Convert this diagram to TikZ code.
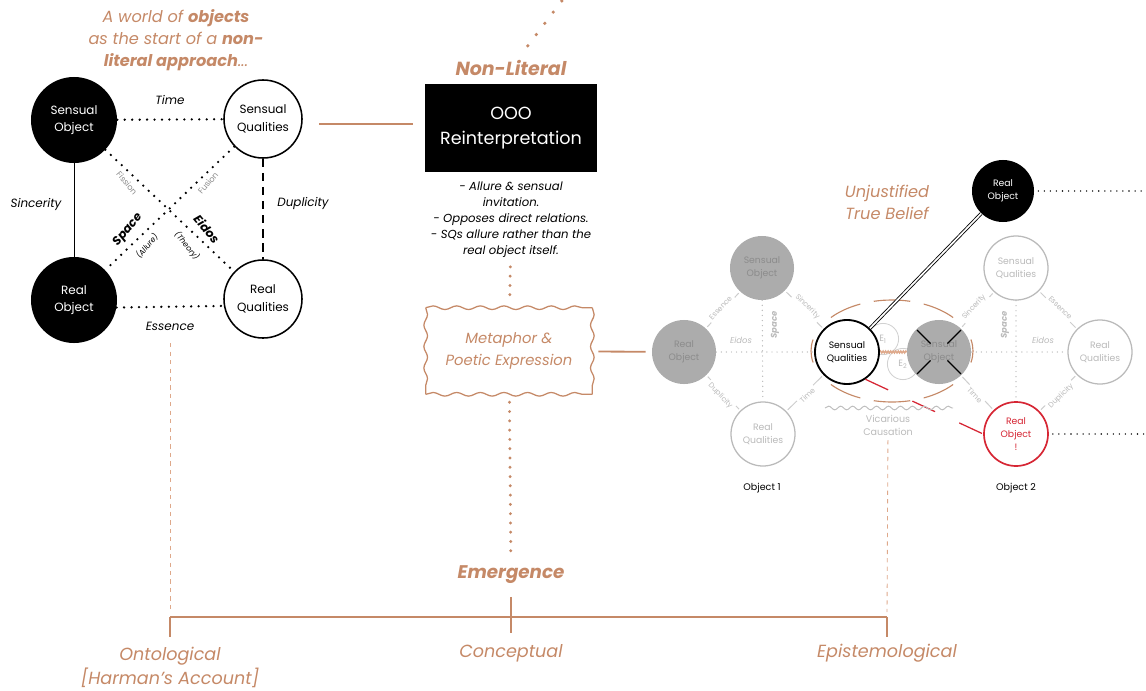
\documentclass[tikz,border=0pt]{standalone}
\usepackage{fontspec}
\setmainfont{Poppins}
\usetikzlibrary{calc,backgrounds,decorations.pathmorphing}

\definecolor{ochre}{RGB}{197,137,103}
\definecolor{ochrelight}{RGB}{222,168,138}
\definecolor{shade}{RGB}{172,172,172}
\definecolor{pale}{RGB}{186,186,186}
\definecolor{palelink}{RGB}{205,205,205}
\definecolor{alert}{RGB}{214,38,52}

\def\fsz#1#2{\fontsize{#1}{#2}\selectfont}
\def\halo[#1](#2)(#3:#4){\draw[#1] ($(#2)+({81*cos(#3)},{51*sin(#3)})$) arc[start angle=#3, end angle=#4, x radius=81, y radius=51];}

\tikzset{
	darkobj/.style={circle, fill=black, text=white, inner sep=0pt, align=center},
	lightobj/.style={circle, draw=black, fill=white, inner sep=0pt, align=center},
	bigobj/.style={minimum size=2.15cm, font=\fsz{8.5}{12.5}},
	smallobj/.style={minimum size=1.6cm, font=\fsz{6.6}{9.2}},
	fadedobj/.style={lightobj, smallobj, draw=pale, text=pale, line width=0.9pt},
	grayobj/.style={circle, fill=shade, text=black!45, inner sep=0pt, align=center, smallobj},
	dotline/.style={line width=1.8pt, dash pattern=on 0pt off 5.3pt, line cap=round},
	ochredots/.style={ochre, line width=2.3pt, dash pattern=on 0pt off 6.6pt, line cap=round},
	faintdots/.style={black!28, line width=1pt, dash pattern=on 0pt off 3.6pt, line cap=round},
	tinydots/.style={line width=1.1pt, dash pattern=on 0pt off 4.3pt, line cap=round},
	ochreline/.style={ochre, line width=1.3pt},
	paledash/.style={ochrelight, line width=0.6pt, dash pattern=on 3pt off 3pt},
	wavyside/.style={ochre, line width=0.9pt, decorate, decoration={snake, segment length=#1, amplitude=1.3pt}},
	objlink/.style={palelink, line width=0.7pt, shorten <=0.05cm, shorten >=0.05cm},
	linklab/.style={sloped, fill=white, inner sep=1.6pt, text=pale, font=\fsz{5.2}{6}},
	edgelab/.style={font=\itshape\fsz{8.5}{10}},
	ochretext/.style={text=ochre, align=center},
	axislab/.style={ochretext, font=\itshape\fsz{12.5}{17}},
}

\begin{document}
\begin{tikzpicture}[x=0.025cm, y=-0.025cm]
	%%%%% START %%%%%
	\useasboundingbox (0,0) rectangle (1146,691);
	
	% left: the fourfold object
	\node[ochretext, font=\itshape\fsz{11.5}{15.8}] (intro) at (176,40) {A world of \textbf{objects}\\as the start of a \textbf{non-}\\\textbf{literal approach}...};
	
	\node[darkobj, bigobj] (so) at (74,120) {Sensual\\Object};
	\node[lightobj, bigobj, line width=1.1pt, minimum size=1.95cm] (sq) at (263,119) {Sensual\\Qualities};
	\node[darkobj, bigobj] (ro) at (74,300) {Real\\Object};
	\node[lightobj, bigobj, line width=1.1pt, minimum size=1.95cm] (rq) at (263,299) {Real\\Qualities};
	
	\draw[dotline] (so) -- (sq);
	\draw[dotline] (ro.-10) -- (rq.190);
	\draw[dotline] (so) -- (rq);
	\draw[dotline] (sq) -- (ro);
	\draw[line width=0.6pt] (so) -- (ro);
	\draw[line width=1.3pt, dash pattern=on 6pt off 4pt] (sq) -- (rq);
	
	\node[edgelab] (timeL) at (170,100) {Time};
	\node[edgelab] (essL) at (170,326) {Essence};
	\node[edgelab] (sinL) at (36,204) {Sincerity};
	\node[edgelab] (dupL) at (303,204) {Duplicity};
	\node[text=black!45, font=\fsz{5.8}{7}, rotate=-50] (fisL) at (127,183) {Fission};
	\node[text=black!45, font=\fsz{5.8}{7}, rotate=50] (fusL) at (208,183) {Fusion};
	\node[font=\bfseries\itshape\fsz{8.5}{10}, rotate=50] (spaL) at (128,230) {Space};
	\node[font=\itshape\fsz{5.5}{7}, rotate=50] (allL) at (147,246) {(Allure)};
	\node[font=\bfseries\itshape\fsz{8.5}{10}, rotate=-50] (eidL) at (207,229) {Eidos};
	\node[font=\itshape\fsz{5.5}{7}, rotate=-50] (theL) at (187,246) {(Theory)};
	
	% middle: the non-literal reading
	\node[ochretext, font=\bfseries\itshape\fsz{13.5}{16}] (nonlit) at (511,68) {Non-Literal};
	\coordinate (skyA) at (567,-6);
	\node[fill=black, text=white, minimum width=4.3cm, minimum height=2.18cm, align=center, font=\fsz{12.5}{18}] (ooo) at (511,128) {OOO\\Reinterpretation};
	\node[align=center, font=\itshape\fsz{8.3}{11.4}] (notes) at (511,220) {- Allure \& sensual\\invitation.\\- Opposes direct relations.\\- SQs allure rather than the\\real object itself.};
	\node[minimum width=4.15cm, minimum height=2.15cm, ochretext, font=\itshape\fsz{10.5}{15.6}] (meta) at (509,351) {Metaphor \&\\Poetic Expression};
	\draw[wavyside=16.8pt] (meta.north west) -- (meta.north east);
	\draw[wavyside=16.8pt] (meta.south west) -- (meta.south east);
	\draw[wavyside=15.25pt] (meta.north west) -- (meta.south west);
	\draw[wavyside=15.25pt] (meta.north east) -- (meta.south east);
	\node[ochretext, font=\bfseries\itshape\fsz{13}{16}] (emerg) at (511,575) {Emergence};
	
	\draw[ochredots, dash pattern=on 0pt off 10pt, line width=2.6pt, shorten <=0.3cm] (nonlit) -- (skyA);
	\draw[ochreline, shorten <=0.42cm, shorten >=0.3cm] (sq.-7) -- (sq.-7 -| ooo.west);
	\draw[ochredots, shorten <=0.1cm, shorten >=0.15cm] (notes) -- (meta);
	\draw[ochredots, shorten <=0.2cm, shorten >=0.25cm] (meta) -- (emerg);
	
	% bottom: the three readings
	\coordinate (brL) at (170,617);
	\coordinate (brR) at (887,617);
	\node[axislab] (ontol) at (170,667) {Ontological\\{[}Harman’s Account{]}};
	\node[axislab] (concep) at (511,653) {Conceptual};
	\node[axislab] (episte) at (887,653) {Epistemological};
	
	\draw[ochre, line width=2pt] (brL) -- (brR);
	\draw[ochre, line width=0.9pt] (brL) -- ++(0,20);
	\draw[ochre, line width=0.9pt] (brR) -- ++(0,20);
	\draw[ochre, line width=0.9pt, shorten <=0.2cm, shorten >=0.15cm] (emerg) -- (concep);
	\draw[paledash, shorten <=0.2cm, shorten >=0.12cm] (essL) -- (brL);
	
	% right: two objects and vicarious causation
	\node[ochretext, font=\itshape\fsz{11.5}{15.6}] (belief) at (887,202) {Unjustified\\True Belief};
	
	\node[grayobj] (so1) at (762,268) {Sensual\\Object};
	\node[grayobj] (ro1) at (684,352) {Real\\Object};
	\node[fadedobj] (rq1) at (763,434) {Real\\Qualities};
	\node[lightobj, smallobj, line width=1.3pt] (sq1) at (847,352) {Sensual\\Qualities};
	
	\node[fadedobj] (sq2) at (1016,268) {Sensual\\Qualities};
	\node[grayobj] (so2) at (939,352) {Sensual\\Object};
	\node[fadedobj] (rq2) at (1100,352) {Real\\Qualities};
	\node[fadedobj, draw=alert, text=alert, line width=1.2pt] (ro2) at (1016,434) {Real\\Object\\!};
	\node[darkobj, minimum size=1.55cm, font=\fsz{6.6}{9.2}] (rotop) at (1003,191) {Real\\Object};
	
	\node[font=\fsz{6.8}{8}] (obj1) at (762,488) {Object 1};
	\node[font=\fsz{6.8}{8}] (obj2) at (1016,488) {Object 2};
	\node[text=pale, font=\fsz{6.8}{9.2}, align=center] (vicar) at (888,425) {Vicarious\\Causation};
	\coordinate (waveL) at (825,408);
	\coordinate (waveR) at (953,408);
	\coordinate (edgeA) at (1146,191);
	\coordinate (edgeB) at (1146,434);
	\coordinate (hc) at (892,351);
	
	\begin{scope}[on background layer]
		\foreach \t in {0,54,90,126,180,234,270,306}
			\halo[ochre, line width=0.8pt](hc)(\t-13:\t+13);
		\node[circle, draw=black!18, line width=0.6pt, minimum size=0.78cm, inner sep=0pt, text=pale, font=\fsz{6.5}{7}] (e1) at (883,339) {E\textsubscript{1}};
		\node[circle, draw=black!18, line width=0.6pt, minimum size=0.78cm, inner sep=0pt, text=pale, font=\fsz{6.5}{7}] (e2) at (903,364) {E\textsubscript{2}};
		\draw[ochrelight, line width=1pt, decorate, decoration={zigzag, amplitude=0.7pt, segment length=1.8pt}] (sq1) -- (so2);
	\end{scope}
	
	\draw[objlink] (so1) -- node[linklab, above=-1.5pt] (l1) {Essence} (ro1);
	\draw[objlink] (so1) -- node[linklab, above=-1.5pt] (l2) {Sincerity} (sq1);
	\draw[objlink] (ro1) -- node[linklab, below=-1.5pt] (l3) {Duplicity} (rq1);
	\draw[objlink] (rq1) -- node[linklab, below=-1.5pt] (l4) {Time} (sq1);
	\draw[faintdots] (so1) -- (rq1);
	\draw[faintdots] (ro1) -- (sq1);
	\node[text=pale, font=\bfseries\itshape\fsz{6}{7}, rotate=90] (spa1) at (775,325) {Space};
	\node[text=pale, font=\itshape\fsz{6}{7}] (eid1) at (741,340) {Eidos};
	
	\draw[objlink] (so2) -- node[linklab, above=-1.5pt] (l5) {Sincerity} (sq2);
	\draw[objlink] (sq2) -- node[linklab, above=-1.5pt] (l6) {Essence} (rq2);
	\draw[objlink] (rq2) -- node[linklab, below=-1.5pt] (l7) {Duplicity} (ro2);
	\draw[objlink] (so2) -- node[linklab, below=-1.5pt] (l8) {Time} (ro2);
	\draw[faintdots] (sq2) -- (ro2);
	\draw[faintdots] (so2) -- (rq2);
	\node[text=pale, font=\bfseries\itshape\fsz{6}{7}, rotate=90] (spa2) at (1005,325) {Space};
	\node[text=pale, font=\itshape\fsz{6}{7}] (eid2) at (1043,340) {Eidos};
	
	\foreach \a in {45,135,225,315}
		\draw[line width=0.8pt] ($(so2)+(\a:12)$) -- ($(so2)+(\a:31)$);
	
	\draw[draw=black, double=white, line width=0.6pt, double distance=1.2pt] (sq1) -- (rotop);
	\draw[alert, line width=0.9pt, dash pattern=on 17.8pt off 19pt] (sq1.-56) -- (ro2.west);
	\draw[black!25, line width=0.7pt, decorate, decoration={snake, amplitude=1.3pt, segment length=8.5pt}] (waveL) -- (waveR);
	\draw[tinydots, shorten <=0.1cm] (rotop) -- (edgeA);
	\draw[tinydots, shorten <=0.1cm] (ro2) -- (edgeB);
	
	\draw[ochreline, shorten <=0.15cm, shorten >=0.15cm] (meta) -- (ro1);
	\draw[paledash, shorten >=0.12cm] (vicar) -- (brR);
	
	%%%%% END %%%%%
\end{tikzpicture}
\end{document}
